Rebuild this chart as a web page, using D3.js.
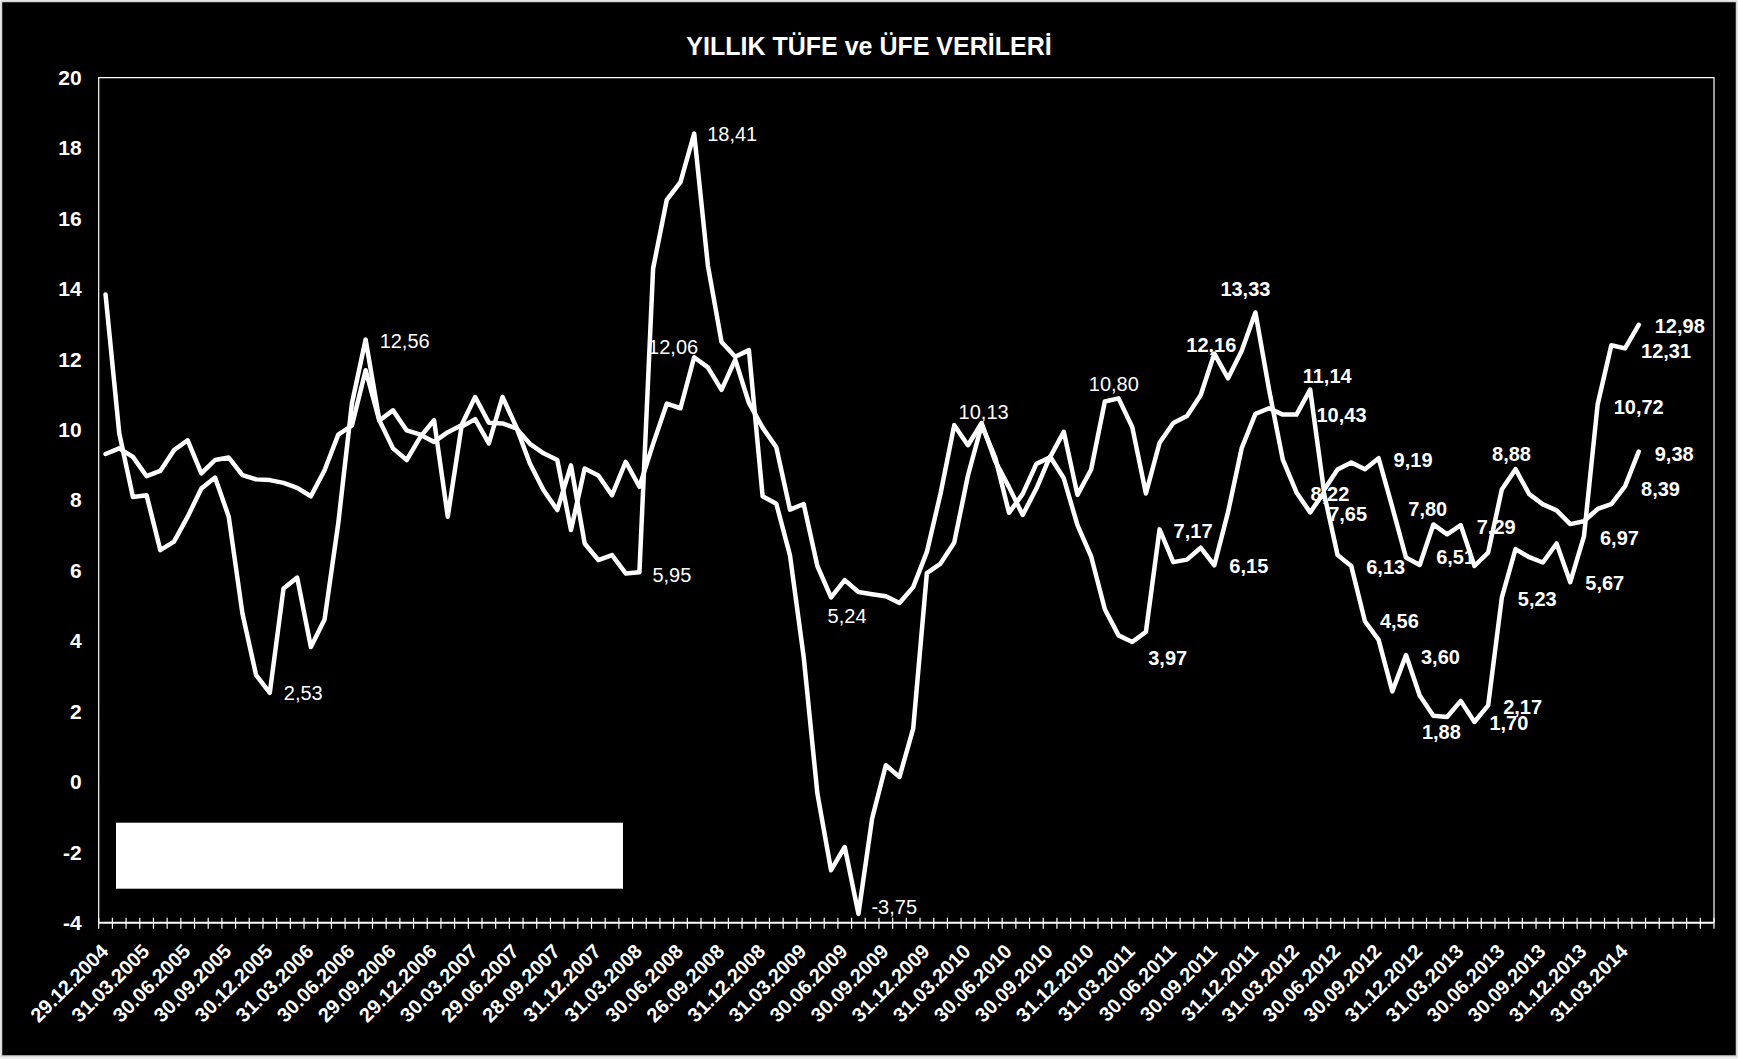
<!DOCTYPE html>
<html>
<head>
<meta charset="utf-8">
<script src="https://cdnjs.cloudflare.com/ajax/libs/d3/7.8.5/d3.min.js"></script>
<style>
  body { margin: 0; background: #ececec; }
  svg { display: block; font-family: "Liberation Sans", Arial, sans-serif; }
</style>
</head>
<body>
<svg id="chart"></svg>
<script>
// ***********************DATA**********************

let title = "YILLIK TÜFE ve ÜFE VERİLERİ"

// monthly slots on the category axis, Dec 2004 .. Sep 2014 (data stops at Apr 2014)
let slotCount = 118

let tickLabels = ["29.12.2004", "31.03.2005", "30.06.2005", "30.09.2005", "30.12.2005",
  "31.03.2006", "30.06.2006", "29.09.2006", "29.12.2006", "30.03.2007", "29.06.2007",
  "28.09.2007", "31.12.2007", "31.03.2008", "30.06.2008", "26.09.2008", "31.12.2008",
  "31.03.2009", "30.06.2009", "30.09.2009", "31.12.2009", "31.03.2010", "30.06.2010",
  "30.09.2010", "31.12.2010", "31.03.2011", "30.06.2011", "30.09.2011", "31.12.2011",
  "31.03.2012", "30.06.2012", "30.09.2012", "31.12.2012", "31.03.2013", "30.06.2013",
  "30.09.2013", "31.12.2013", "31.03.2014"]

let yTicks = [-4, -2, 0, 2, 4, 6, 8, 10, 12, 14, 16, 18, 20]

let tufe = [9.31, 9.47, 9.23, 8.68, 8.83, 9.42, 9.70, 8.76, 9.14, 9.21, 8.71, 8.59, 8.57,
  8.49, 8.35, 8.11, 8.85, 9.86, 10.12, 11.69, 10.26, 10.55, 9.98, 9.86, 9.65, 9.93, 10.13,
  10.93, 10.20, 10.18, 10.04, 9.60, 9.33, 9.14, 7.15, 8.90, 8.70, 8.14, 9.09, 8.38, 9.60,
  10.74, 10.61, 12.06, 11.77, 11.13, 11.99, 10.76, 10.06, 9.50, 7.73, 7.89, 6.13, 5.24,
  5.73, 5.39, 5.33, 5.27, 5.08, 5.53, 6.53, 8.19, 10.13, 9.56, 10.19, 9.10, 8.37, 7.58,
  8.33, 9.24, 8.62, 7.29, 6.40, 4.90, 4.16, 3.97, 4.26, 7.17, 6.24, 6.31, 6.65, 6.15,
  7.66, 9.48, 10.45, 10.61, 10.43, 10.43, 11.14, 8.28, 8.87, 9.07, 8.88, 9.19, 7.80,
  6.37, 6.16, 7.31, 7.03, 7.29, 6.13, 6.51, 8.30, 8.88, 8.17, 7.88, 7.71, 7.32, 7.40,
  7.75, 7.89, 8.39, 9.38]

let ufe = [13.84, 9.90, 8.09, 8.14, 6.58, 6.82, 7.53, 8.33, 8.64, 7.53, 4.78, 3.03, 2.53,
  5.49, 5.80, 3.83, 4.61, 7.34, 10.75, 12.56, 10.27, 9.47, 9.14, 9.80, 10.27, 7.53, 10.08,
  10.30, 9.61, 10.93, 10.08, 9.04, 8.28, 7.72, 8.99, 6.77, 6.30, 6.44, 5.92, 5.95, 14.58,
  16.53, 17.03, 18.41, 14.67, 12.49, 12.07, 12.26, 8.11, 7.90, 6.43, 3.55, -0.33, -2.51,
  -1.85, -3.75, -1.04, 0.47, 0.14, 1.51, 5.93, 6.20, 6.80, 8.70, 10.13, 9.20, 7.64, 8.18,
  9.03, 9.22, 9.94, 8.15, 8.87, 10.80, 10.89, 10.08, 8.19, 9.63, 10.19, 10.39, 10.98,
  12.16, 11.46, 12.24, 13.33, 11.13, 9.15, 8.22, 7.65, 8.22, 6.44, 6.13, 4.56, 4.03, 2.57,
  3.60, 2.45, 1.88, 1.84, 2.30, 1.70, 2.17, 5.23, 6.61, 6.38, 6.23, 6.77, 5.67, 6.97,
  10.72, 12.40, 12.31, 12.98]

// which points carry a value label: series, slot
let labelledPoints = [["ufe", 19], ["ufe", 12], ["ufe", 43], ["tufe", 43], ["ufe", 39],
  ["tufe", 53], ["ufe", 55], ["ufe", 64], ["ufe", 73], ["tufe", 75], ["tufe", 77],
  ["tufe", 81], ["ufe", 81], ["ufe", 84], ["tufe", 88], ["tufe", 87], ["ufe", 89],
  ["ufe", 88], ["tufe", 93], ["ufe", 91], ["tufe", 94], ["ufe", 92], ["ufe", 95],
  ["tufe", 101], ["tufe", 99], ["ufe", 97], ["ufe", 100], ["ufe", 101], ["tufe", 103],
  ["ufe", 102], ["ufe", 107], ["ufe", 108], ["ufe", 109], ["ufe", 111], ["ufe", 112],
  ["tufe", 112], ["tufe", 111]]

// ***********************LAYOUT**********************

// label placement, same order as labelledPoints: dx, dy, anchor, weight
let labelStyle = [[14, 1, "start", "normal"], [14, 0, "start", "normal"], [13, 0, "start", "normal"],
  [4, -10, "end", "normal"], [13, 2, "start", "normal"], [16, 18, "middle", "normal"],
  [13, -7, "start", "normal"], [2, -13, "middle", "normal"], [9, -18, "middle", "normal"],
  [16, 16, "start", "bold"], [14, 1, "start", "bold"], [15, 1, "start", "bold"],
  [-3, -9, "middle", "bold"], [-10, -24, "middle", "bold"], [17, -14, "middle", "bold"],
  [20, 0, "start", "bold"], [6, 1, "middle", "bold"], [18, 1, "start", "bold"],
  [15, 2, "start", "bold"], [15, 1, "start", "bold"], [16, 2, "start", "bold"],
  [15, 0, "start", "bold"], [15, 2, "start", "bold"], [-13, 4, "end", "bold"],
  [16, 2, "start", "bold"], [8, 16, "middle", "bold"], [15, 1, "start", "bold"],
  [15, 1, "start", "bold"], [-4, -15, "middle", "bold"], [16, 1, "start", "bold"],
  [15, 1, "start", "bold"], [16, 1, "start", "bold"], [16, 2, "start", "bold"],
  [16, 2, "start", "bold"], [16, 1, "start", "bold"], [16, 2, "start", "bold"],
  [16, 2, "start", "bold"]]

let width = 1738
let height = 1059
let plot = { left: 98.7, right: 1714, top: 77.6, bottom: 922.7 }

let svg = d3.select("#chart")
  .attr("width", width)
  .attr("height", height)

// chart area
svg.append("rect")
  .attr("x", 1.5).attr("y", 1.5)
  .attr("width", width - 3).attr("height", height - 4.5)
  .attr("fill", "#000")
  .attr("stroke", "#d4d4d4")
  .attr("stroke-width", 1.5)

svg.append("text")
  .attr("x", width / 2)
  .attr("y", 55)
  .attr("text-anchor", "middle")
  .attr("fill", "#fff")
  .attr("font-size", 25)
  .attr("font-weight", "bold")
  .text(title)

let x = d3.scaleBand()
  .domain(d3.range(slotCount))
  .range([plot.left, plot.right])
  .padding(0)

let y = d3.scaleLinear()
  .domain([-4, 20])
  .range([plot.bottom, plot.top])

let cx = function(i) { return x(i) + x.bandwidth() / 2 }

// plot frame (left, top, right)
svg.append("path")
  .attr("d", "M" + plot.left + "," + plot.bottom + "V" + plot.top + "H" + plot.right + "V" + plot.bottom)
  .attr("fill", "none")
  .attr("stroke", "#fff")
  .attr("stroke-width", 1.2)

// y axis labels
let yAxis = d3.axisLeft(y)
  .tickValues(yTicks)
  .tickSize(0)
  .tickPadding(17)
  .tickFormat(function(d) { return String(d) })

svg.append("g")
  .attr("transform", "translate(" + plot.left + ",0)")
  .call(yAxis)
  .call(function(g) { g.select(".domain").remove() })
  .selectAll("text")
  .attr("fill", "#fff")
  .attr("font-size", 21)
  .attr("font-weight", "bold")
  .attr("font-family", "Liberation Sans, Arial, sans-serif")

// x axis: line, cross ticks on slot borders, rotated date labels every 3 slots
let xAxis = svg.append("g").attr("id", "x-axis")

xAxis.append("line")
  .attr("x1", plot.left).attr("x2", plot.right)
  .attr("y1", y(-4)).attr("y2", y(-4))
  .attr("stroke", "#fff")
  .attr("stroke-width", 2)

xAxis.selectAll(".tick")
  .data(d3.range(slotCount + 1))
  .enter()
  .append("line")
  .attr("class", "tick")
  .attr("x1", function(d) { return plot.left + d * x.bandwidth() })
  .attr("x2", function(d) { return plot.left + d * x.bandwidth() })
  .attr("y1", y(-4) - 5)
  .attr("y2", y(-4) + 6)
  .attr("stroke", "#fff")
  .attr("stroke-width", 1.2)

xAxis.selectAll(".lbl")
  .data(tickLabels)
  .enter()
  .append("text")
  .attr("class", "lbl")
  .attr("transform", function(d, k) {
    return "translate(" + (cx(k * 3) + 4) + "," + (y(-4) + 30) + ") rotate(-45)"
  })
  .attr("text-anchor", "end")
  .attr("fill", "#fff")
  .attr("font-size", 20)
  .attr("font-weight", "bold")
  .text(function(d) { return d })

// legend box (white on white)
svg.append("rect")
  .attr("x", 116).attr("y", 822.7)
  .attr("width", 507).attr("height", 66)
  .attr("fill", "#fff")

// ***********************LABELS + LINES**********************

let series = { tufe: tufe, ufe: ufe }
let fmt = d3.format(".2f")

svg.append("g")
  .selectAll("text")
  .data(labelledPoints)
  .enter()
  .append("text")
  .attr("x", function(d, k) { return cx(d[1]) + labelStyle[k][0] })
  .attr("y", function(d, k) { return y(series[d[0]][d[1]]) + labelStyle[k][1] })
  .attr("dy", "0.36em")
  .attr("text-anchor", function(d, k) { return labelStyle[k][2] })
  .attr("font-weight", function(d, k) { return labelStyle[k][3] })
  .attr("font-size", 20)
  .attr("fill", "#fff")
  .text(function(d) {
    // plain hyphen and decimal comma, as in the original
    return fmt(series[d[0]][d[1]]).replace("−", "-").replace(".", ",")
  })

let line = d3.line()
  .x(function(d, i) { return cx(i) })
  .y(function(d) { return y(d) })

svg.selectAll(".series")
  .data([ufe, tufe])
  .enter()
  .append("path")
  .attr("class", "series")
  .attr("d", line)
  .attr("fill", "none")
  .attr("stroke", "#fff")
  .attr("stroke-width", 4.5)
  .attr("stroke-linejoin", "round")
  .attr("stroke-linecap", "round")
</script>
</body>
</html>
